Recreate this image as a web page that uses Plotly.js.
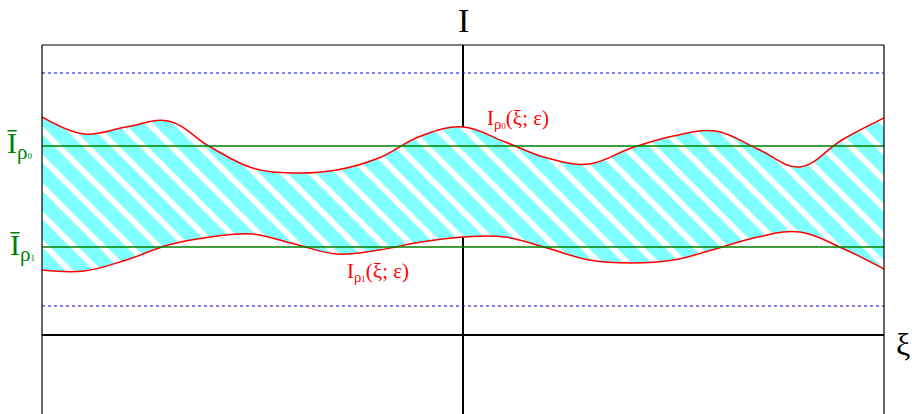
<!DOCTYPE html>
<html>
<head>
<meta charset="utf-8">
<script src="https://cdn.plot.ly/plotly-3.0.1.min.js"></script>
<style>
  html, body { margin: 0; padding: 0; background: #ffffff; }
  #chart { width: 912px; height: 414px; }
</style>
</head>
<body>
<div id="chart"></div>
<script>
// sample positions along xi (same for both boundaries)
const xi = [-1.0, -0.9, -0.8, -0.7, -0.6, -0.5, -0.4, -0.3, -0.2, -0.1,
  0.0, 0.1, 0.2, 0.3, 0.4, 0.5, 0.6, 0.7, 0.8, 0.9, 1.0];

// upper boundary I_rho0(xi; eps)
const iUpper = [21.8, 20.1, 20.8, 21.4, 18.8, 16.7, 16.2, 16.5, 17.7, 19.9,
  20.8, 19.3, 17.7, 17.1, 18.7, 19.9, 20.4, 18.6, 16.8, 19.5, 21.7];

// lower boundary I_rho1(xi; eps)
const iLower = [6.5, 6.4, 7.5, 9.0, 9.8, 10.1, 9.1, 8.1, 8.5, 9.3,
  9.8, 9.8, 8.7, 7.5, 7.2, 7.5, 8.6, 9.8, 10.3, 8.7, 6.6];

// constant levels
const xiSpan = [-1, 1];
const boundTop = 26.2;
const iBar0 = 18.9;
const iBar1 = 8.8;
const boundBottom = 2.9;

const RED = '#ff0000';
const GREEN = '#008000';
const SERIF = 'Liberation Serif, Times New Roman, serif';

const level = (v, color, dash) => ({
  x: xiSpan,
  y: [v, v],
  mode: 'lines',
  line: { color: color, width: dash ? 1.2 : 1.5, dash: dash || 'solid' },
  hoverinfo: 'skip'
});

const traces = [
  {
    x: xi, y: iLower,
    mode: 'lines',
    line: { color: RED, width: 1.5, shape: 'spline', smoothing: 1.1 },
    hoverinfo: 'skip'
  },
  {
    x: xi, y: iUpper,
    mode: 'lines',
    fill: 'tonexty',
    fillcolor: '#80ffff',
    fillpattern: { shape: '\\', bgcolor: '#80ffff', fgcolor: '#ffffff', size: 20, solidity: 0.3 },
    line: { color: RED, width: 1.5, shape: 'spline', smoothing: 1.1 },
    hoverinfo: 'skip'
  },
  level(boundTop, '#0000ee', 'dot'),
  level(boundBottom, '#0000ee', 'dot'),
  level(iBar0, GREEN),
  level(iBar1, GREEN)
];

// rho subscript with a tiny index digit
const rhoSub = d => '<sub>ρ<span style="font-size:9px">' + d + '</span></sub>';

const layout = {
  width: 912,
  height: 414,
  margin: { l: 42, r: 28, t: 45, b: 0 },
  showlegend: false,
  plot_bgcolor: '#ffffff',
  paper_bgcolor: '#ffffff',
  xaxis: {
    range: [-1, 1],
    showgrid: false, showticklabels: false, ticks: '',
    zeroline: true, zerolinecolor: '#000000', zerolinewidth: 1.2
  },
  yaxis: {
    range: [-7.9, 29],
    showgrid: false, showticklabels: false, ticks: '',
    zeroline: true, zerolinecolor: '#000000', zerolinewidth: 1.2
  },
  shapes: [
    { type: 'line', xref: 'paper', yref: 'paper', x0: 0, x1: 1, y0: 1, y1: 1, line: { color: '#000000', width: 1.2 } },
    { type: 'line', xref: 'paper', yref: 'paper', x0: 0, x1: 0, y0: 0, y1: 1, line: { color: '#000000', width: 1.2 } },
    { type: 'line', xref: 'paper', yref: 'paper', x0: 1, x1: 1, y0: 0, y1: 1, line: { color: '#000000', width: 1.2 } }
  ],
  annotations: [
    { text: 'I', x: 0, y: 1, xref: 'x', yref: 'paper', yanchor: 'middle', yshift: 25, showarrow: false,
      font: { family: SERIF, size: 34, color: '#000000' } },
    { text: 'ξ', x: 1, y: 0, xref: 'x', yref: 'y', xanchor: 'left', yanchor: 'middle', xshift: 10, yshift: -9, showarrow: false,
      font: { family: SERIF, size: 32, color: '#000000' } },
    { text: 'Ī' + rhoSub('0'), x: -1, y: iBar0, xref: 'x', yref: 'y', xanchor: 'right', yanchor: 'middle', xshift: -8, yshift: 1, showarrow: false,
      font: { family: SERIF, size: 30, color: GREEN } },
    { text: 'Ī' + rhoSub('1'), x: -1, y: iBar1, xref: 'x', yref: 'y', xanchor: 'right', yanchor: 'middle', xshift: -5, yshift: 0, showarrow: false,
      font: { family: SERIF, size: 30, color: GREEN } },
    { text: 'I' + rhoSub('0') + '(ξ; ε)', x: 0.052, y: 21.6, xref: 'x', yref: 'y', xanchor: 'left', yanchor: 'middle', showarrow: false,
      font: { family: SERIF, size: 21, color: RED } },
    { text: 'I' + rhoSub('1') + '(ξ; ε)', x: -0.280, y: 6.3, xref: 'x', yref: 'y', xanchor: 'left', yanchor: 'middle', showarrow: false,
      font: { family: SERIF, size: 21, color: RED } }
  ]
};

Plotly.newPlot('chart', traces, layout, { displayModeBar: false, staticPlot: true });
</script>
</body>
</html>
